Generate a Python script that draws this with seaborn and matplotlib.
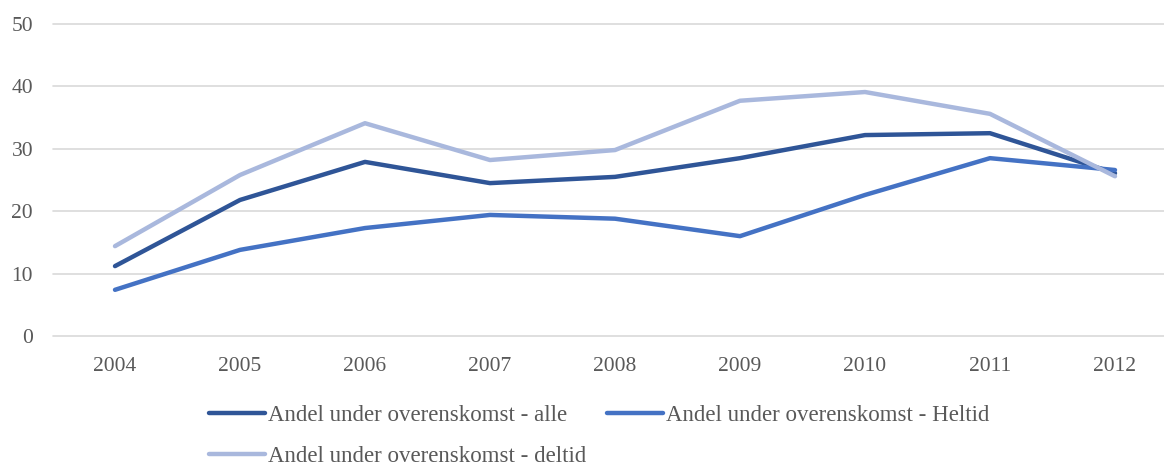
import pandas as pd
import matplotlib
matplotlib.use("Agg")
import matplotlib.pyplot as plt
import seaborn as sns

years = ["2004", "2005", "2006", "2007", "2008", "2009", "2010", "2011", "2012"]
alle = [11.2, 21.8, 27.9, 24.5, 25.5, 28.5, 32.2, 32.5, 26.1]
heltid = [7.4, 13.8, 17.3, 19.4, 18.8, 16.0, 22.6, 28.5, 26.6]
deltid = [14.4, 25.8, 34.1, 28.2, 29.8, 37.7, 39.1, 35.6, 25.6]

names = [
    "Andel under overenskomst - alle",
    "Andel under overenskomst - Heltid",
    "Andel under overenskomst - deltid",
]
colors = ["#2F5597", "#4472C4", "#A9B8DD"]

df = pd.concat([
    pd.DataFrame({"year": years, "value": vals, "series": name})
    for name, vals in zip(names, [alle, heltid, deltid])
])

sns.set_style("white")
plt.rcParams["font.family"] = ["Liberation Serif", "DejaVu Serif"]
TEXT = "#595959"

W, H = 1164, 466
fig = plt.figure(figsize=(W / 100, H / 100), dpi=100)
ax = fig.add_axes([52.5 / W, 130 / H, (W - 52.5) / W, 312 / H])

sns.lineplot(data=df, x="year", y="value", hue="series", palette=colors,
             linewidth=3.2, sort=False, ax=ax, legend=False)

ax.set_xlim(-0.5, (W - 115) / 125)
ax.set_ylim(0, 50)
ax.set_yticks([0, 10, 20, 30, 40, 50])
ax.grid(axis="y", color="#D9D9D9", linewidth=1.2)
ax.set_axisbelow(True)
for s in ax.spines.values():
    s.set_visible(False)
ax.set_xlabel("")
ax.set_ylabel("")
ax.tick_params(axis="both", length=0, labelsize=15.5, colors=TEXT)
ax.tick_params(axis="y", pad=14)
ax.tick_params(axis="x", pad=15)
for g in ax.get_ygridlines():
    g.set_clip_on(False)

# legend in two rows: alle / Heltid on top, deltid below
handles = [plt.Line2D([], [], color=c, linewidth=3.2) for c in colors]
order = [0, 2, 1]
fig.legend([handles[i] for i in order], [names[i] for i in order],
           loc="upper left", bbox_to_anchor=(209 / W, 1 - 405 / H), ncol=2,
           frameon=False, fontsize=16.5, labelcolor=TEXT, handlelength=2.45,
           handletextpad=0.13, columnspacing=0.9, labelspacing=0.85,
           borderaxespad=0, borderpad=0)

fig.savefig("out.png", dpi=100, facecolor="white")
